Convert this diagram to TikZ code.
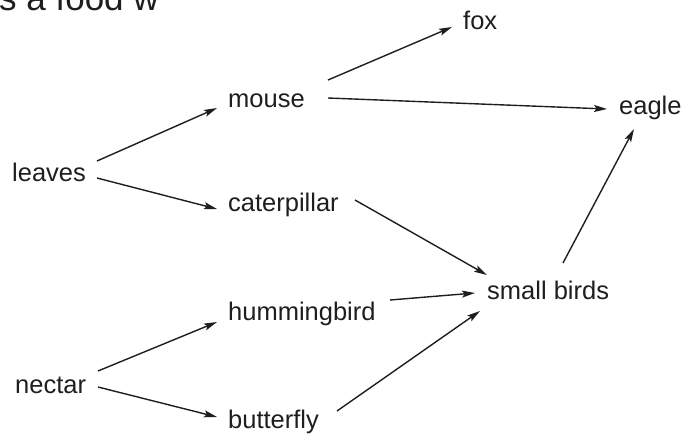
\documentclass[tikz,border=0pt]{standalone}
\usepackage{fontspec}
\setmainfont{Liberation Sans}
\usetikzlibrary{arrows.meta,calc}
\definecolor{ink}{HTML}{1E1E1E}
\begin{document}
\begin{tikzpicture}[x=1pt,y=-1pt,
  lbl/.style={inner sep=0pt,anchor=base west,text=ink,font=\fontsize{25.5}{28}\selectfont},
  arr/.style={draw=ink,line width=1.4pt,-{Stealth[length=13pt,width=7pt,inset=2.5pt]}}]
\useasboundingbox (0,0) rectangle (689,437);
\clip (0,0) rectangle (689,437);
\node[lbl,font=\fontsize{35}{38}\selectfont] (food) at (-1,10) {s a food w};
\node[lbl] (fox) at (463,29) {fox};
\node[lbl] (mouse) at (228,107) {mouse};
\node[lbl] (eagle) at (619,114) {eagle};
\node[lbl] (leaves) at (12,181) {leaves};
\node[lbl] (caterpillar) at (228,211) {caterpillar};
\node[lbl] (smallbirds) at (487,299) {small birds};
\node[lbl] (hummingbird) at (228,320) {hummingbird};
\node[lbl] (nectar) at (15,393) {nectar};
\node[lbl] (butterfly) at (228,428) {butterfly};
% leaves base west (12,181)
\draw[arr] ($(leaves.base west)+(85,-20)$) -- ($(mouse.base west)+(-11,1)$);
\draw[arr] ($(leaves.base west)+(85,-3)$) -- ($(caterpillar.base west)+(-11,-2)$);
% mouse base west (228,107)
\draw[arr] ($(mouse.base west)+(100,-27)$) -- ($(fox.base west)+(-11,-2)$);
\draw[arr] ($(mouse.base west)+(100,-9)$) -- ($(eagle.base west)+(-12,-5)$);
% small birds base west (487,299)
\draw[arr] ($(smallbirds.base west)+(76,-36)$) -- ($(eagle.base west)+(15,15)$);
% caterpillar base west (228,211)
\draw[arr] ($(caterpillar.base west)+(127,-11)$) -- ($(smallbirds.base west)+(0,-24)$);
% hummingbird base west (228,320)
\draw[arr] ($(hummingbird.base west)+(162,-20)$) -- ($(smallbirds.base west)+(-12,-6)$);
% butterfly base west (228,428)
\draw[arr] ($(butterfly.base west)+(109,-17)$) -- ($(smallbirds.base west)+(-7,12)$);
% nectar base west (15,393)
\draw[arr] ($(nectar.base west)+(83,-22)$) -- ($(hummingbird.base west)+(-11,2)$);
\draw[arr] ($(nectar.base west)+(83,-6)$) -- ($(butterfly.base west)+(-11,-11)$);
\end{tikzpicture}
\end{document}
